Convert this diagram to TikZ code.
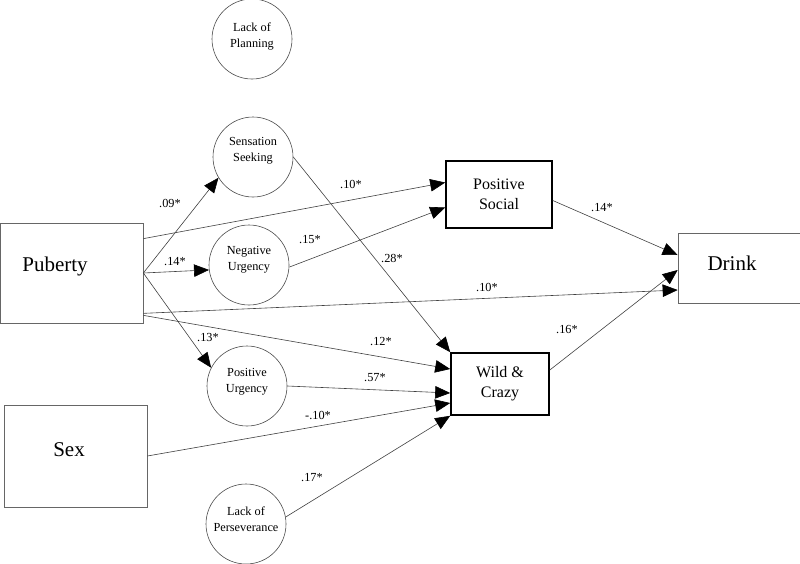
\documentclass[tikz,border=0pt]{standalone}
\usepackage{fontspec}
\setmainfont{Liberation Serif}
\usetikzlibrary{arrows.meta,calc}
\begin{document}
\begin{tikzpicture}[x=1pt,y=-1pt,
  lat/.style={circle,draw=black!70,line width=0.6pt,minimum size=80pt,inner sep=0pt},
  lattext/.style={align=center,inner sep=0pt,font=\fontsize{12.3}{16}\selectfont},
  obs/.style={draw=black!60,line width=0.7pt,inner sep=0pt},
  obstext/.style={inner sep=0pt,font=\fontsize{21}{24}\selectfont},
  med/.style={draw=black,line width=1.6pt,inner sep=0pt,align=center,font=\fontsize{16}{20}\selectfont},
  pathln/.style={draw=black!75,line width=0.6pt,-{Triangle[length=15pt,width=12.5pt,black]}},
  lbl/.style={font=\fontsize{12.3}{14}\selectfont,inner sep=0pt}
]
\useasboundingbox (0,0) rectangle (800,563);

% observed boxes
\node[obs,minimum width=143pt,minimum height=100pt] (pub) at (71.5,273) {};
\node[obstext] (pubt) at (55,266) {Puberty};
\node[obs,minimum width=143pt,minimum height=102pt] (sex) at (75.5,456) {};
\node[obstext] (sext) at (69,450) {Sex};
\node[obs,minimum width=122pt,minimum height=70pt] (drink) at (739,268) {};
\node[obstext] (drinkt) at (732,263) {Drink};

% mediators
\node[med,minimum width=106pt,minimum height=67pt] (ps) at (499,194.5) {Positive\\Social};
\node[med,minimum width=98pt,minimum height=62pt] (wc) at (500,384) {Wild \&\\Crazy};

% latent circles
\node[lat] (lp) at (252,39) {};
\node[lattext] (lpt) at (252,36) {Lack of\\Planning};
\node[lat] (ss) at (253,157) {};
\node[lattext] (sst) at (253,151) {Sensation\\Seeking};
\node[lat] (nu) at (249,265) {};
\node[lattext] (nut) at (249,260) {Negative\\Urgency};
\node[lat] (pu) at (247,386) {};
\node[lattext] (put) at (247,382) {Positive\\Urgency};
\node[lat] (lpers) at (246,524) {};
\node[lattext] (lperst) at (246,519) {Lack of\\Perseverance};

% paths
\draw[pathln] (pub.east) -- (ss.211);
\draw[pathln] (pub.east) -- (nu.187);
\draw[pathln] (pub.east) -- (pu.153);
\draw[pathln] ($(pub.north east)+(0,16)$) -- ($(ps.west)+(0,-12)$);
\draw[pathln] ($(pub.south east)+(0,-10)$) -- ($(drink.west)+(0,22)$);
\draw[pathln] ($(pub.south east)+(0,-8)$) -- ($(wc.west)+(0,-15)$);
\draw[pathln] (nu.-3) -- ($(ps.west)+(0,13)$);
\draw[pathln] (ss.east) -- (wc.north west);
\draw[pathln] (pu.east) -- ($(wc.west)+(0,9)$);
\draw[pathln] (sex.east) -- ($(wc.west)+(0,19)$);
\draw[pathln] (lpers.10) -- (wc.south west);
\draw[pathln] ($(ps.east)+(0,6)$) -- ($(drink.west)+(0,-13)$);
\draw[pathln] ($(wc.east)+(0,-14)$) -- ($(drink.west)+(0,2)$);

% coefficients
\node[lbl] (l09) at (170,203) {.09*};
\node[lbl] (l14a) at (175,262) {.14*};
\node[lbl] (l13) at (208,338) {.13*};
\node[lbl] (l10a) at (351,184) {.10*};
\node[lbl] (l15) at (310,240) {.15*};
\node[lbl] (l28) at (392,258) {.28*};
\node[lbl] (l10b) at (487,287) {.10*};
\node[lbl] (l12) at (381,342) {.12*};
\node[lbl] (l57) at (375,378) {.57*};
\node[lbl] (lm10) at (318,415) {-.10*};
\node[lbl] (l17) at (312,478) {.17*};
\node[lbl] (l14b) at (602,208) {.14*};
\node[lbl] (l16) at (567,330) {.16*};
\end{tikzpicture}
\end{document}
